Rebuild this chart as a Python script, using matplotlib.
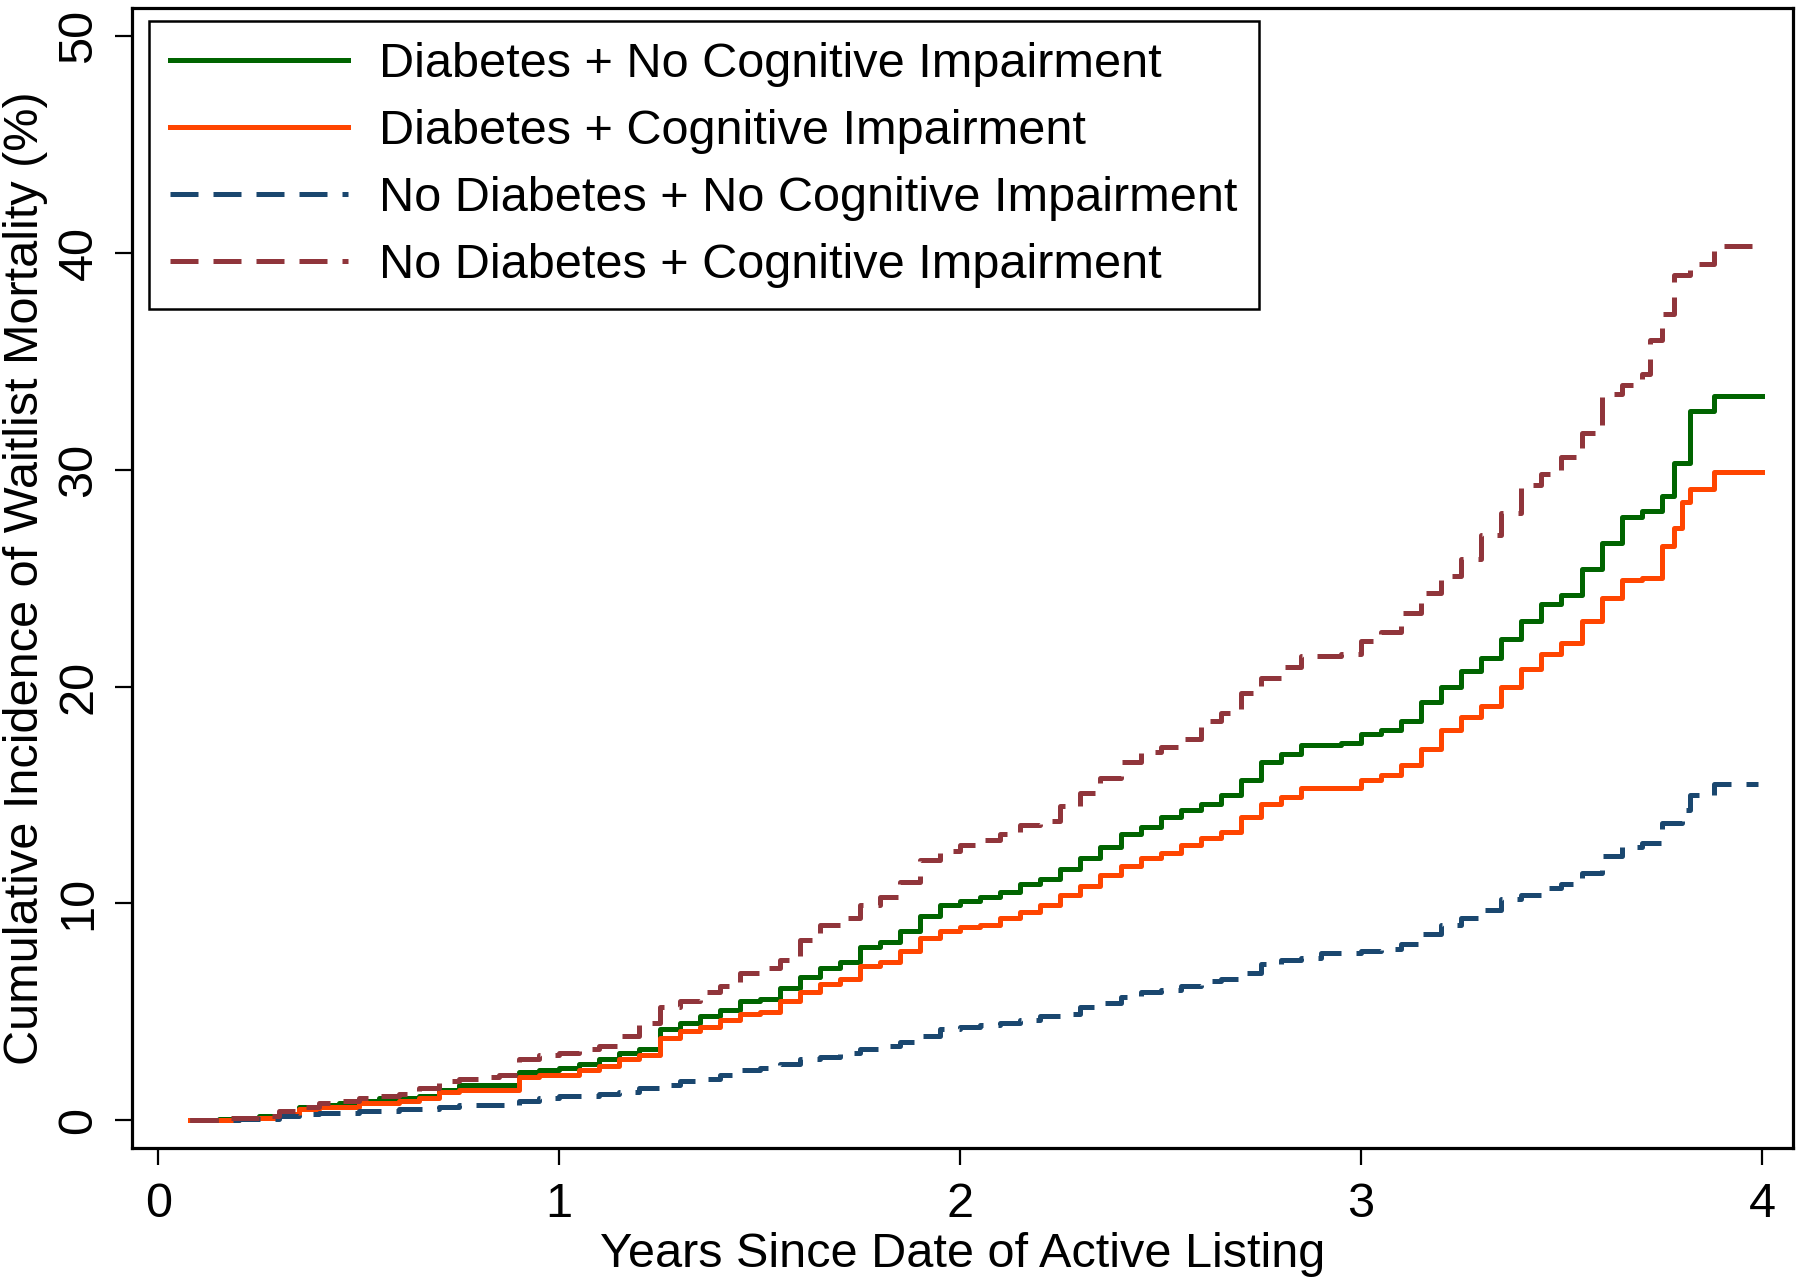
import matplotlib
matplotlib.use("Agg")
import matplotlib.pyplot as plt

plt.rcParams["font.family"] = ["Liberation Sans", "DejaVu Sans"]

# Cumulative incidence step curves (years, %) --------------------------------
t_green = [0.08, 0.15, 0.2, 0.25, 0.3, 0.35, 0.4, 0.45, 0.5, 0.55, 0.6, 0.65, 0.7, 0.75,
           0.8, 0.85, 0.9, 0.95, 1.0, 1.05, 1.1, 1.15, 1.2, 1.25, 1.3, 1.35, 1.4, 1.45,
           1.5, 1.55, 1.6, 1.65, 1.7, 1.75, 1.8, 1.85, 1.9, 1.95, 2.0, 2.05, 2.1, 2.15,
           2.2, 2.25, 2.3, 2.35, 2.4, 2.45, 2.5, 2.55, 2.6, 2.65, 2.7, 2.75, 2.8, 2.85,
           2.9, 2.95, 3.0, 3.05, 3.1, 3.15, 3.2, 3.25, 3.3, 3.35, 3.4, 3.45, 3.5, 3.55,
           3.6, 3.65, 3.7, 3.75, 3.78, 3.82, 3.88, 4.0]
y_green = [0, 0.05, 0.1, 0.2, 0.3, 0.6, 0.7, 0.8, 0.9, 1.0, 1.0, 1.1, 1.4, 1.6,
           1.6, 1.6, 2.2, 2.3, 2.4, 2.6, 2.8, 3.1, 3.3, 4.2, 4.5, 4.8, 5.1, 5.5,
           5.6, 6.1, 6.6, 7.0, 7.3, 8.0, 8.2, 8.7, 9.4, 9.9, 10.1, 10.3, 10.5, 10.9,
           11.1, 11.6, 12.1, 12.6, 13.2, 13.5, 14.0, 14.3, 14.6, 15.0, 15.7, 16.5, 16.9, 17.3,
           17.3, 17.4, 17.8, 18.0, 18.4, 19.3, 20.0, 20.7, 21.3, 22.2, 23.0, 23.8, 24.2, 25.4,
           26.6, 27.8, 28.1, 28.8, 30.3, 32.7, 33.4, 33.4]

t_orange = [0.08, 0.2, 0.3, 0.35, 0.4, 0.5, 0.6, 0.65, 0.7, 0.75, 0.85, 0.9, 0.95, 1.0,
            1.05, 1.1, 1.15, 1.2, 1.25, 1.3, 1.35, 1.4, 1.45, 1.5, 1.55, 1.6, 1.65, 1.7,
            1.75, 1.8, 1.85, 1.9, 1.95, 2.0, 2.05, 2.1, 2.15, 2.2, 2.25, 2.3, 2.35, 2.4,
            2.45, 2.5, 2.55, 2.6, 2.65, 2.7, 2.75, 2.8, 2.85, 2.95, 3.0, 3.05, 3.1, 3.15,
            3.2, 3.25, 3.3, 3.35, 3.4, 3.45, 3.5, 3.55, 3.6, 3.65, 3.7, 3.75, 3.78, 3.8,
            3.82, 3.88, 4.0]
y_orange = [0, 0.1, 0.3, 0.5, 0.6, 0.8, 0.9, 1.0, 1.3, 1.4, 1.4, 2.0, 2.1, 2.1,
            2.3, 2.5, 2.8, 3.0, 3.8, 4.1, 4.3, 4.6, 4.9, 5.0, 5.5, 5.9, 6.3, 6.5,
            7.1, 7.3, 7.8, 8.4, 8.7, 8.9, 9.0, 9.3, 9.6, 9.9, 10.4, 10.8, 11.3, 11.7,
            12.1, 12.3, 12.7, 13.0, 13.3, 14.0, 14.6, 14.9, 15.3, 15.3, 15.7, 15.9, 16.4, 17.1,
            18.0, 18.6, 19.1, 20.0, 20.8, 21.5, 22.0, 23.0, 24.1, 24.9, 25.0, 26.5, 27.3, 28.5,
            29.1, 29.9, 29.9]

t_blue = [0.08, 0.2, 0.3, 0.35, 0.4, 0.5, 0.6, 0.7, 0.75, 0.85, 0.9, 0.95, 1.0, 1.05,
          1.1, 1.15, 1.2, 1.25, 1.3, 1.35, 1.4, 1.45, 1.5, 1.55, 1.6, 1.65, 1.7, 1.75,
          1.8, 1.85, 1.9, 1.95, 2.0, 2.05, 2.1, 2.15, 2.2, 2.25, 2.3, 2.35, 2.4, 2.45,
          2.5, 2.55, 2.6, 2.65, 2.7, 2.75, 2.8, 2.85, 2.9, 3.0, 3.05, 3.1, 3.15, 3.2,
          3.25, 3.3, 3.35, 3.4, 3.45, 3.5, 3.55, 3.6, 3.65, 3.7, 3.75, 3.8, 3.82, 3.88, 3.99]
y_blue = [0, 0.05, 0.2, 0.3, 0.35, 0.4, 0.5, 0.6, 0.7, 0.7, 0.9, 1.0, 1.1, 1.1,
          1.2, 1.3, 1.5, 1.6, 1.8, 1.9, 2.1, 2.3, 2.4, 2.6, 2.8, 2.9, 3.1, 3.3,
          3.4, 3.6, 3.9, 4.2, 4.3, 4.4, 4.5, 4.6, 4.8, 4.9, 5.2, 5.4, 5.7, 5.9,
          6.0, 6.2, 6.4, 6.5, 6.8, 7.2, 7.4, 7.5, 7.7, 7.8, 7.9, 8.1, 8.6, 9.0,
          9.3, 9.7, 10.2, 10.4, 10.7, 10.9, 11.4, 12.2, 12.6, 12.8, 13.7, 14.3, 15.0, 15.5, 15.5]

t_brown = [0.08, 0.15, 0.25, 0.3, 0.35, 0.4, 0.45, 0.5, 0.55, 0.6, 0.65, 0.7, 0.75, 0.8,
           0.85, 0.9, 0.95, 1.0, 1.05, 1.1, 1.15, 1.2, 1.25, 1.3, 1.35, 1.4, 1.45, 1.5,
           1.55, 1.6, 1.65, 1.7, 1.75, 1.8, 1.85, 1.9, 1.95, 2.0, 2.05, 2.1, 2.15, 2.2,
           2.25, 2.3, 2.35, 2.4, 2.45, 2.5, 2.55, 2.6, 2.65, 2.7, 2.75, 2.8, 2.85, 2.95,
           3.0, 3.05, 3.1, 3.15, 3.2, 3.25, 3.3, 3.35, 3.4, 3.45, 3.5, 3.55, 3.6, 3.65,
           3.7, 3.72, 3.75, 3.78, 3.82, 3.88, 3.99]
y_brown = [0, 0.1, 0.2, 0.4, 0.6, 0.8, 0.9, 1.0, 1.1, 1.2, 1.5, 1.8, 1.9, 2.0,
           2.1, 2.8, 3.0, 3.1, 3.3, 3.4, 3.9, 4.5, 5.2, 5.5, 5.9, 6.2, 6.8, 7.0,
           7.4, 8.3, 9.0, 9.3, 9.9, 10.3, 11.0, 12.0, 12.4, 12.7, 12.9, 13.2, 13.6, 13.8,
           14.5, 15.1, 15.8, 16.5, 17.0, 17.2, 17.6, 18.4, 18.8, 19.7, 20.4, 20.9, 21.4, 21.5,
           22.1, 22.5, 23.4, 24.3, 25.1, 25.9, 27.0, 28.0, 29.3, 29.8, 30.6, 31.7, 33.5, 33.9,
           34.4, 36.0, 37.2, 39.0, 39.5, 40.3, 40.3]

labels = ["Diabetes + No Cognitive Impairment",
          "Diabetes + Cognitive Impairment",
          "No Diabetes + No Cognitive Impairment",
          "No Diabetes + Cognitive Impairment"]

x_ticks = [0, 1, 2, 3, 4]
y_ticks = [0, 10, 20, 30, 40, 50]

# Figure ---------------------------------------------------------------------
fig = plt.figure(figsize=(18, 12.83), dpi=100)
ax = fig.add_axes([0.0733, 0.105, 0.9227, 0.8888])

fs = 35
lw = 3.6
dash = (5.6, 3.0)
ax.plot(t_green, y_green, drawstyle="steps-post", color="#006400", lw=lw, label=labels[0])
ax.plot(t_orange, y_orange, drawstyle="steps-post", color="#ff4500", lw=lw, label=labels[1])
ax.plot(t_blue, y_blue, drawstyle="steps-post", color="#1a476f", lw=lw,
        dashes=dash, label=labels[2])
ax.plot(t_brown, y_brown, drawstyle="steps-post", color="#90353b", lw=lw,
        dashes=dash, label=labels[3])

ax.set_xlim(-0.066, 4.077)
ax.set_ylim(-1.3, 51.3)
ax.set_xticks(x_ticks)
ax.set_yticks(y_ticks)

for s in ax.spines.values():
    s.set_linewidth(2.3)
ax.tick_params(axis="both", direction="out", length=12, width=1.6,
               labelsize=fs, pad=10)
ax.tick_params(axis="x", pad=12)
for lab in ax.get_yticklabels():
    lab.set_rotation(90)
    lab.set_va("center")

ax.set_xlabel("Years Since Date of Active Listing", fontsize=fs, va="center")
ax.xaxis.set_label_coords(0.5, -0.0935)
ax.set_ylabel("Cumulative Incidence of Waitlist Mortality (%)", fontsize=fs, va="center")
ax.yaxis.set_label_coords(-0.064, 0.5)

leg = ax.legend(loc="upper left", bbox_to_anchor=(0.0102, 0.9886), borderaxespad=0,
                fontsize=fs, handlelength=3.66, handletextpad=0.64, labelspacing=0.45,
                fancybox=False, edgecolor="black", framealpha=1, borderpad=0.44)
leg.get_frame().set_linewidth(1.8)

fig.savefig("out.png", dpi=100, facecolor="white")
